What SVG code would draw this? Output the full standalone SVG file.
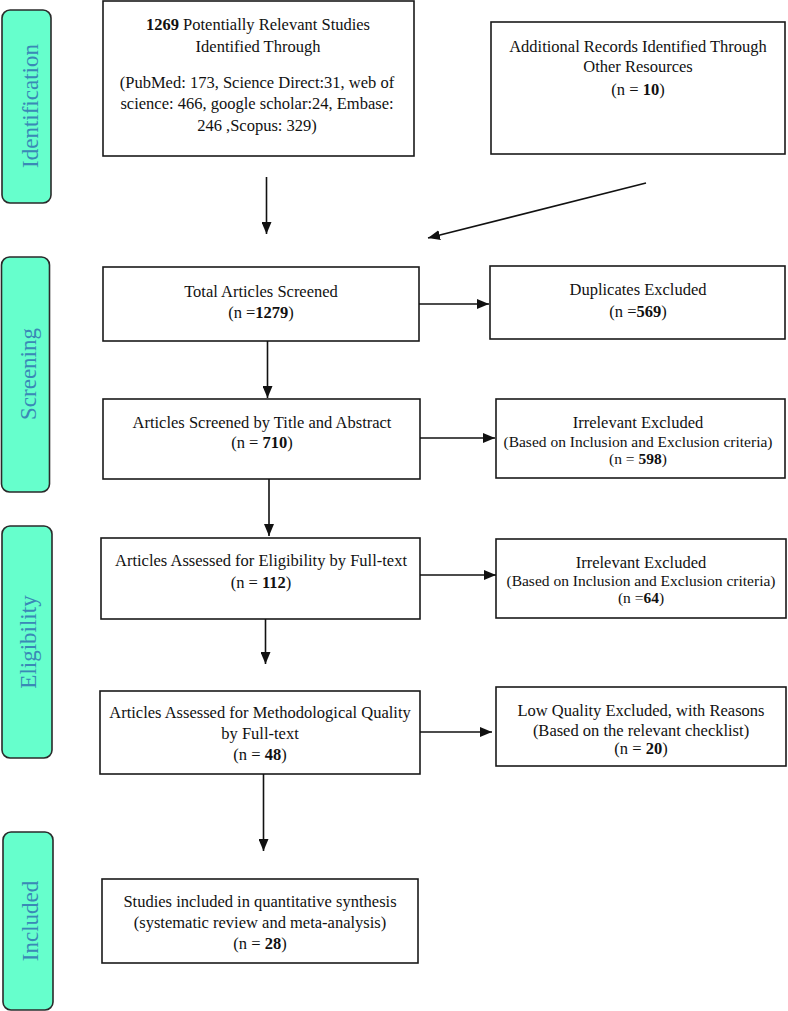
<svg xmlns="http://www.w3.org/2000/svg" width="788" height="1011" viewBox="0 0 788 1011">
<style>
.bg{fill:#ffffff}
.box{fill:#ffffff;stroke:#1a1a1a;stroke-width:1.6}
.side{fill:#66ffcc;stroke:#2a2a2a;stroke-width:1.6}
.t{font-family:"Liberation Serif","Times New Roman",serif;font-size:16.5px;fill:#111;text-anchor:middle}
.s{font-size:15.5px}
.lab{font-family:"Liberation Serif","Times New Roman",serif;font-size:23px;fill:#3a89b6;text-anchor:middle}
.b{font-weight:bold}
.c{stroke:#111;stroke-width:1.6;fill:none;marker-end:url(#ah)}
</style>
<defs>
<marker id="ah" viewBox="0 0 12 10" refX="12" refY="5" markerWidth="12" markerHeight="10" markerUnits="userSpaceOnUse" orient="auto">
<path d="M0,0 L12,5 L0,10 z" fill="#111"/>
</marker>
</defs>
<rect class="bg" x="0" y="0" width="788" height="1011"/>

<g id="stage-identification">
<rect class="side" x="2" y="10" width="49" height="193" rx="8"/>
<text class="lab" transform="translate(38,106) rotate(-90)">Identification</text>
</g>
<g id="stage-screening">
<rect class="side" x="1.5" y="257" width="48" height="235" rx="8"/>
<text class="lab" transform="translate(36,374) rotate(-90)">Screening</text>
</g>
<g id="stage-eligibility">
<rect class="side" x="2" y="526" width="50" height="232" rx="8"/>
<text class="lab" transform="translate(36,642) rotate(-90)">Eligibility</text>
</g>
<g id="stage-included">
<rect class="side" x="3" y="832" width="50" height="178" rx="8"/>
<text class="lab" transform="translate(38,921) rotate(-90)">Included</text>
</g>

<g id="n-identified">
<rect class="box" x="103" y="1" width="311" height="155"/>
<text class="t" x="258" y="30"><tspan class="b">1269</tspan> Potentially Relevant Studies</text>
<text class="t" x="258" y="52">Identified Through</text>
<text class="t" x="257" y="88">(PubMed: 173, Science Direct:31, web of</text>
<text class="t" x="257" y="109">science: 466, google scholar:24, Embase:</text>
<text class="t" x="257" y="131">246 ,Scopus: 329)</text>
</g>
<g id="n-additional">
<rect class="box" x="491" y="22" width="294" height="132"/>
<text class="t" x="638" y="52">Additional Records Identified Through</text>
<text class="t" x="638" y="72">Other Resources</text>
<text class="t" x="638" y="95">(n = <tspan class="b">10</tspan>)</text>
</g>
<g id="n-total">
<rect class="box" x="103" y="267" width="316" height="74"/>
<text class="t" x="261" y="297">Total Articles Screened</text>
<text class="t" x="261" y="318">(n =<tspan class="b">1279</tspan>)</text>
</g>
<g id="n-duplicates">
<rect class="box" x="490" y="266" width="295" height="73"/>
<text class="t" x="638" y="295">Duplicates Excluded</text>
<text class="t" x="638" y="317">(n =<tspan class="b">569</tspan>)</text>
</g>
<g id="n-title-abstract">
<rect class="box" x="103" y="399" width="317" height="80"/>
<text class="t" x="262" y="428">Articles Screened by Title and Abstract</text>
<text class="t" x="262" y="448">(n = <tspan class="b">710</tspan>)</text>
</g>
<g id="n-irrelevant1">
<rect class="box" x="496" y="399" width="289" height="79"/>
<text class="t" x="638" y="428">Irrelevant Excluded</text>
<text class="t s" x="638" y="447">(Based on Inclusion and Exclusion criteria)</text>
<text class="t s" x="638" y="464">(n = <tspan class="b">598</tspan>)</text>
</g>
<g id="n-fulltext">
<rect class="box" x="101" y="538" width="319" height="81"/>
<text class="t" x="261" y="566">Articles Assessed for Eligibility by Full-text</text>
<text class="t" x="261" y="588">(n = <tspan class="b">112</tspan>)</text>
</g>
<g id="n-irrelevant2">
<rect class="box" x="496" y="539" width="290" height="79"/>
<text class="t" x="641" y="568">Irrelevant Excluded</text>
<text class="t s" x="641" y="586">(Based on Inclusion and Exclusion criteria)</text>
<text class="t s" x="641" y="603">(n =<tspan class="b">64</tspan>)</text>
</g>
<g id="n-quality">
<rect class="box" x="100" y="691" width="320" height="83"/>
<text class="t" x="260" y="718">Articles Assessed for Methodological Quality</text>
<text class="t" x="260" y="739">by Full-text</text>
<text class="t" x="260" y="760">(n = <tspan class="b">48</tspan>)</text>
</g>
<g id="n-lowquality">
<rect class="box" x="496" y="687" width="290" height="79"/>
<text class="t" x="641" y="716">Low Quality Excluded, with Reasons</text>
<text class="t" x="641" y="736">(Based on the relevant checklist)</text>
<text class="t" x="641" y="754">(n = <tspan class="b">20</tspan>)</text>
</g>
<g id="n-included">
<rect class="box" x="102" y="879" width="316" height="84"/>
<text class="t" x="260" y="907">Studies included in quantitative synthesis</text>
<text class="t" x="260" y="928">(systematic review and meta-analysis)</text>
<text class="t" x="260" y="949">(n = <tspan class="b">28</tspan>)</text>
</g>

<g id="connectors">
<line class="c" x1="266.5" y1="177" x2="266.5" y2="234"/>
<line class="c" x1="646" y1="183" x2="428" y2="238"/>
<line class="c" x1="419" y1="304" x2="489" y2="304"/>
<line class="c" x1="267.5" y1="341" x2="267.5" y2="398"/>
<line class="c" x1="420" y1="438" x2="495" y2="438"/>
<line class="c" x1="269" y1="479" x2="269" y2="536"/>
<line class="c" x1="420" y1="575" x2="496" y2="575"/>
<line class="c" x1="265.5" y1="619" x2="265.5" y2="664"/>
<line class="c" x1="420" y1="732" x2="492" y2="732"/>
<line class="c" x1="263.5" y1="774" x2="263.5" y2="851"/>
</g>
</svg>
